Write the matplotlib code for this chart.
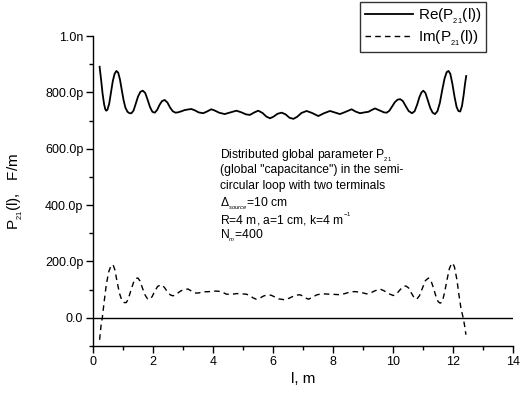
import matplotlib
matplotlib.use("Agg")
import matplotlib.pyplot as plt
from matplotlib.ticker import MultipleLocator

plt.rcParams["font.family"] = ["Liberation Sans", "DejaVu Sans"]
plt.rcParams["mathtext.fontset"] = "custom"
plt.rcParams["mathtext.rm"] = "Liberation Sans"
plt.rcParams["mathtext.it"] = "Liberation Sans:italic"

# Re(P21(l)) in pF/m
l_re = [0.22, 0.27, 0.32, 0.37, 0.41, 0.44, 0.48, 0.54, 0.60, 0.66, 0.72, 0.78,
        0.84, 0.90, 0.96, 1.02, 1.08, 1.15, 1.22, 1.28, 1.35, 1.42, 1.50, 1.58,
        1.66, 1.74, 1.82, 1.90, 1.98, 2.06, 2.14, 2.22, 2.30, 2.39, 2.48, 2.57,
        2.66, 2.75, 2.83, 2.95, 3.05, 3.15, 3.28, 3.40, 3.52, 3.67, 3.80, 3.94,
        4.05, 4.20, 4.39, 4.55, 4.78, 4.95, 5.10, 5.23, 5.38, 5.51, 5.65, 5.78,
        5.90, 6.02, 6.15, 6.29, 6.42, 6.55, 6.68, 6.80, 6.95, 7.12, 7.30, 7.51,
        7.70, 7.90, 8.05, 8.23, 8.40, 8.62, 8.75, 8.90, 9.05, 9.18, 9.30, 9.40,
        9.55, 9.70, 9.79, 9.88, 9.97, 10.06, 10.15, 10.24, 10.33, 10.42, 10.52,
        10.63, 10.72, 10.80, 10.88, 10.95, 11.01, 11.08, 11.16, 11.24, 11.32,
        11.40, 11.48, 11.56, 11.64, 11.72, 11.79, 11.85, 11.91, 11.98, 12.05,
        12.12, 12.18, 12.24, 12.30, 12.36, 12.40, 12.44]
p_re = [891, 845, 795, 758, 740, 735, 738, 760, 800, 840, 866, 876,
        870, 845, 808, 772, 746, 731, 726, 726, 735, 758, 785, 802,
        806, 798, 774, 748, 731, 728, 738, 756, 769, 773, 764, 746,
        733, 728, 729, 733, 737, 739, 741, 736, 729, 726, 732, 740,
        736, 728, 723, 728, 735, 729, 722, 720, 729, 735, 727, 714,
        708, 714, 724, 728, 722, 710, 706, 713, 727, 734, 727, 716,
        726, 734, 729, 723, 730, 740, 732, 726, 729, 731, 738, 743,
        736, 729, 728, 735, 750, 765, 774, 776, 769, 752, 734,
        726, 733, 755, 783, 800, 806, 798, 772, 745, 728,
        723, 733, 762, 808, 850, 872, 876, 866, 830, 785,
        748, 734, 732, 752, 795, 830, 858]

# Im(P21(l)) in pF/m
l_im = [0.22, 0.27, 0.31, 0.37, 0.44, 0.52, 0.60, 0.67, 0.73, 0.80, 0.88, 0.96,
        1.04, 1.11, 1.18, 1.27, 1.36, 1.44, 1.50, 1.57, 1.65, 1.74, 1.82, 1.89,
        1.97, 2.06, 2.16, 2.28, 2.38, 2.48, 2.58, 2.67, 2.78, 2.92, 3.05, 3.17,
        3.28, 3.39, 3.52, 3.65, 3.89, 4.10, 4.28, 4.44, 4.60, 4.80, 4.94, 5.10,
        5.22, 5.33, 5.44, 5.56, 5.70, 5.82, 5.94, 6.06, 6.20, 6.39, 6.55, 6.72,
        6.89, 7.00, 7.10, 7.18, 7.30, 7.45, 7.60, 7.68, 7.85, 8.05, 8.23, 8.40,
        8.58, 8.73, 8.90, 9.05, 9.12, 9.25, 9.40, 9.57, 9.70, 9.85, 10.01, 10.12,
        10.24, 10.34, 10.43, 10.52, 10.60, 10.70, 10.79, 10.88, 10.98, 11.08,
        11.18, 11.25, 11.33, 11.42, 11.50, 11.57, 11.64, 11.72, 11.80, 11.88,
        11.95, 11.99, 12.05, 12.13, 12.20, 12.27, 12.34, 12.39, 12.43]
p_im = [-78, -25, 0, 55, 115, 162, 185, 188, 170, 130, 88, 62,
        54, 54, 68, 100, 128, 140, 141, 130, 105, 80, 67, 66,
        75, 95, 112, 117, 108, 92, 81, 78, 84, 95, 101, 102,
        95, 88, 88, 92, 93, 95, 93, 84, 83, 86, 85, 84,
        80, 71, 66, 70, 78, 81, 80, 74, 67, 64, 70, 79,
        82, 77, 70, 66, 72, 81, 85, 85, 84, 83, 82, 86,
        92, 93, 91, 87, 85, 88, 96, 102, 96, 86, 79, 85,
        100, 111, 113, 106, 90, 72, 66, 78, 105, 132,
        141, 136, 112, 80, 58, 52, 56, 90, 135, 175,
        192, 194, 180, 135, 80, 30, 0, -30, -60]

y_ticks = [0, 200, 400, 600, 800, 1000]
y_tick_labels = ["0.0", "200.0p", "400.0p", "600.0p", "800.0p", "1.0n"]

note_lines = [
    "Distributed global parameter P$_{_{21}}$",
    '(global "capacitance") in the semi-',
    "circular loop with two terminals",
    "$\\Delta_{_{source}}$=10 cm",
    "R=4 m, a=1 cm, k=4 m$^{^{-1}}$",
    "N$_{_m}$=400",
]

fig = plt.figure(figsize=(5.26, 3.98), dpi=100)
ax = fig.add_axes([0.1768, 0.1307, 0.7985, 0.7788])

ax.plot(l_re, p_re, color="black", lw=1.3, label="Re(P$_{_{21}}$(l))")
ax.plot(l_im, p_im, color="black", lw=1.0, dashes=(4, 3),
        label="Im(P$_{_{21}}$(l))")
ax.axhline(0, color="black", lw=1.0)

ax.set_xlim(0, 14)
ax.set_ylim(-100, 1000)
ax.xaxis.set_major_locator(MultipleLocator(2))
ax.xaxis.set_minor_locator(MultipleLocator(1))
ax.set_yticks(y_ticks)
ax.set_yticklabels(y_tick_labels)
ax.yaxis.set_minor_locator(MultipleLocator(100))

for side in ["top", "right"]:
    ax.spines[side].set_visible(False)
ax.spines["left"].set_linewidth(1.0)
ax.spines["bottom"].set_linewidth(1.0)
ax.tick_params(which="major", direction="out", length=5, width=1.0,
               labelsize=9, pad=2)
ax.tick_params(which="minor", direction="out", length=3, width=1.0)

ax.set_xlabel("l, m", fontsize=11, labelpad=3)
ax.set_ylabel("P$_{_{21}}$(l),   F/m", fontsize=11, labelpad=14)

# one text per line so the spacing stays even
for i, line in enumerate(note_lines):
    ax.text(4.23, 586 - 57 * i, line, fontsize=8.7, va="center_baseline",
            ha="left")

leg = fig.legend(loc="upper left", bbox_to_anchor=(360 / 526, 1 - 2 / 398),
                 fontsize=11, frameon=True, fancybox=False, handlelength=3.2,
                 handletextpad=0.3, borderpad=0.3, labelspacing=0.2,
                 borderaxespad=0)
leg.get_frame().set_edgecolor("black")
leg.get_frame().set_linewidth(1.0)

fig.savefig("out.png", dpi=100)
